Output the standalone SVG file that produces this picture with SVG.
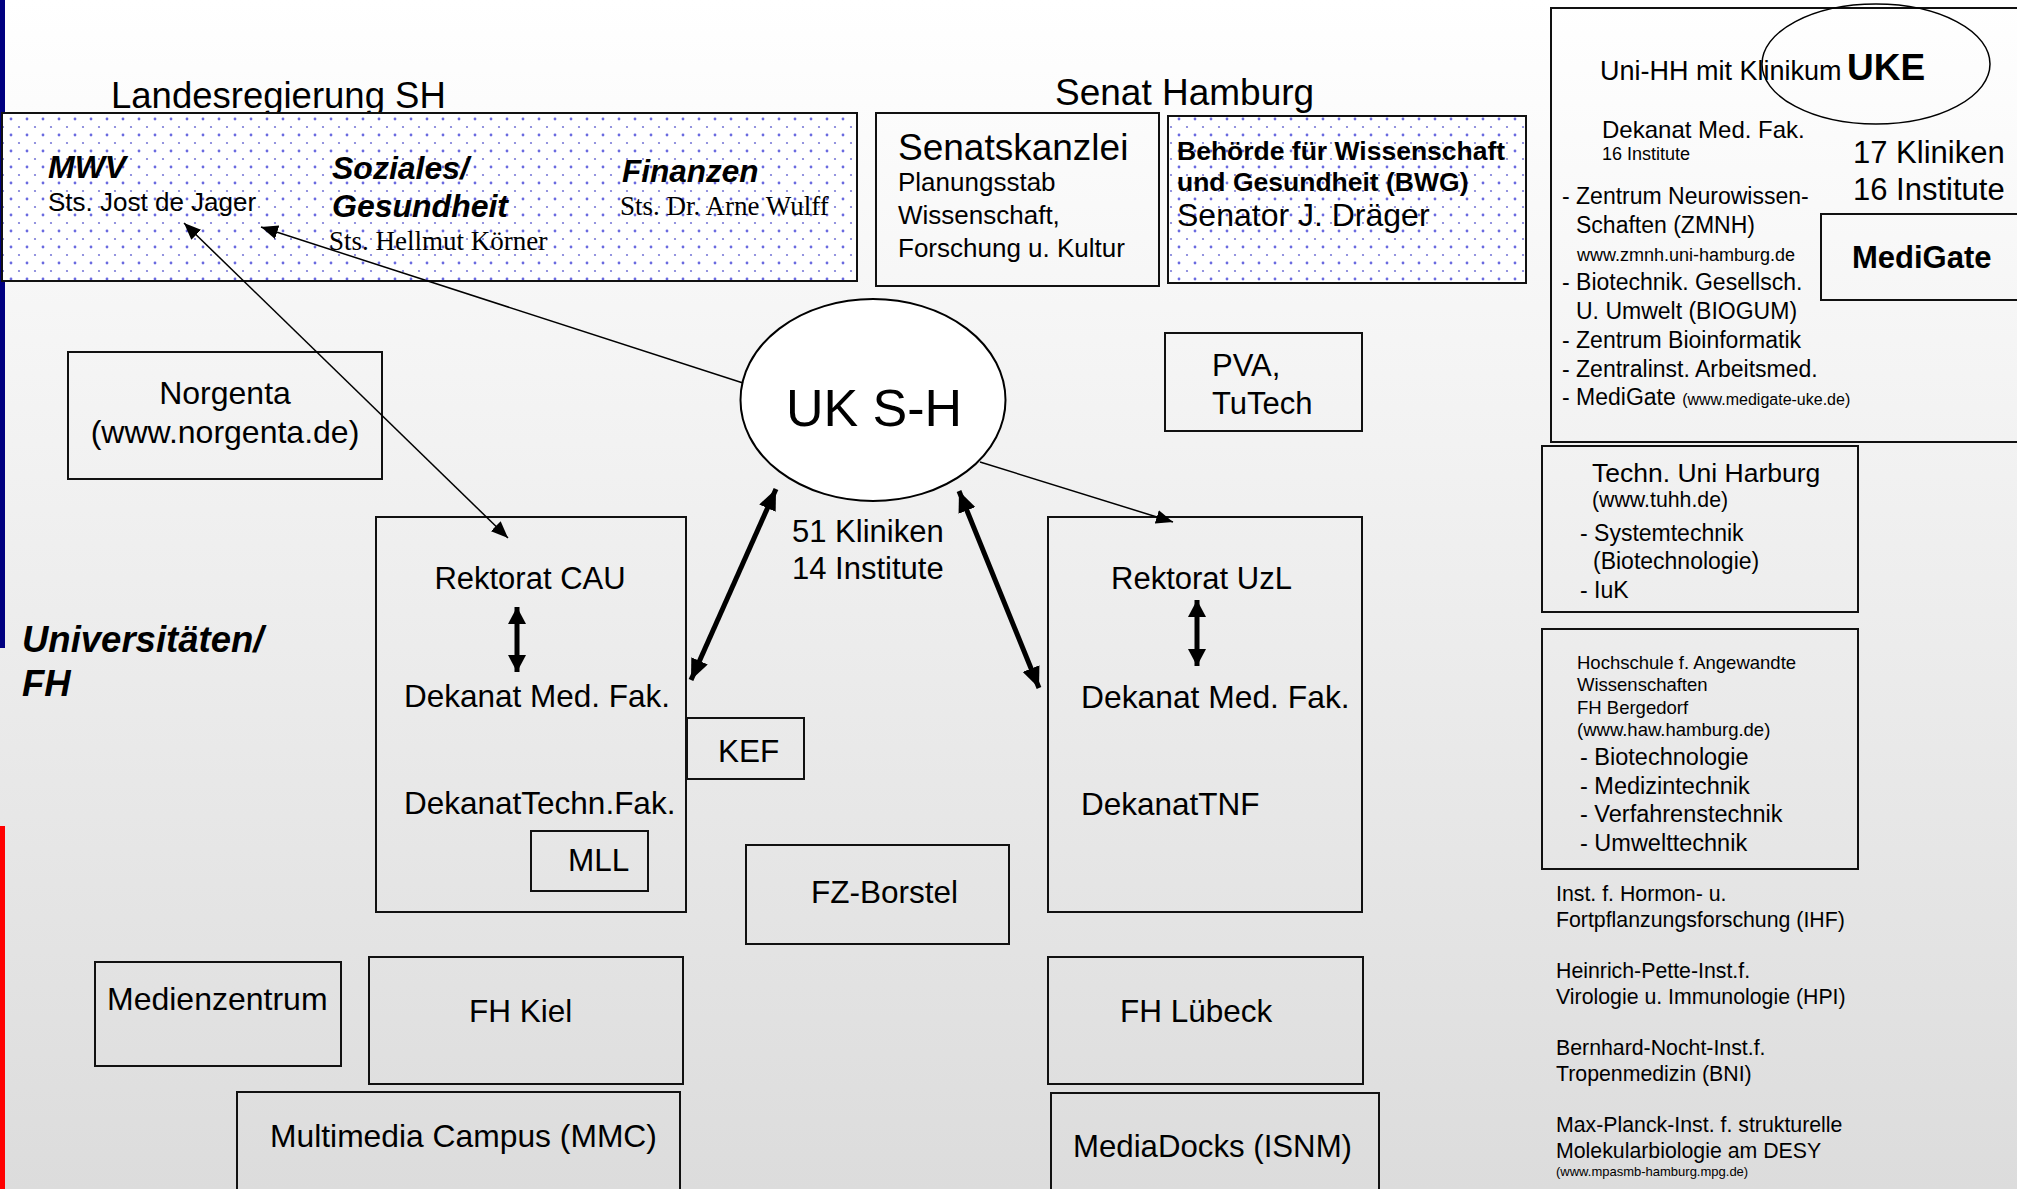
<svg xmlns="http://www.w3.org/2000/svg" width="2017" height="1189" viewBox="0 0 2017 1189">
<defs>
<linearGradient id="bg" x1="0" y1="0" x2="0" y2="1">
<stop offset="0" stop-color="#ffffff"/>
<stop offset="1" stop-color="#dcdcdc"/>
</linearGradient>
<pattern id="dots" x="3" y="111" width="16" height="16" patternUnits="userSpaceOnUse">
<rect width="16" height="16" fill="#ffffff"/>
<circle cx="8" cy="8" r="1.4" fill="#6a6ae0"/>
<circle cx="0" cy="0" r="1.1" fill="#7a7ad8"/>
<circle cx="16" cy="0" r="1.1" fill="#7a7ad8"/>
<circle cx="0" cy="16" r="1.1" fill="#7a7ad8"/>
<circle cx="16" cy="16" r="1.1" fill="#7a7ad8"/>
</pattern>
<marker id="thin" markerUnits="userSpaceOnUse" markerWidth="18" markerHeight="14" refX="17" refY="7" orient="auto-start-reverse">
<path d="M0,0 L17,7 L0,14 Z" fill="#000"/>
</marker>
<marker id="thick" markerUnits="userSpaceOnUse" markerWidth="22" markerHeight="18" refX="21" refY="9" orient="auto-start-reverse">
<path d="M0,0 L21,9 L0,18 Z" fill="#000"/>
</marker>
<marker id="small" markerUnits="userSpaceOnUse" markerWidth="18" markerHeight="18" refX="17" refY="9" orient="auto-start-reverse">
<path d="M0,0 L17,9 L0,18 Z" fill="#000"/>
</marker>
</defs>
<style>
text{font-family:"Liberation Sans",Arial,sans-serif;fill:#000}
.serif{font-family:"Liberation Serif","Times New Roman",serif}
.bi{font-weight:bold;font-style:italic}
.b{font-weight:bold}
.box{fill:none;stroke:#111;stroke-width:2}
.dot{fill:url(#dots);stroke:#111;stroke-width:2}
.f31{font-size:31.5px}
.f26{font-size:26px}
.f23{font-size:23px}
.f21{font-size:21.3px}
.f18{font-size:18.5px}
.thinline{stroke:#000;stroke-width:1.5;fill:none}
.thickline{stroke:#000;stroke-width:5;fill:none}
.mid{text-anchor:middle}
</style>
<rect x="0" y="0" width="2017" height="1189" fill="url(#bg)"/>
<rect x="0" y="0" width="5" height="648" fill="#000080"/>
<rect x="0" y="826" width="5" height="363" fill="#ff0000"/>

<g id="landesregierung">
<text x="111" y="108" font-size="36.5">Landesregierung SH</text>
<rect class="dot" x="2" y="113" width="855" height="168"/>
<text x="48" y="178" font-size="32" class="bi">MWV</text>
<text x="48" y="211" font-size="26">Sts. Jost de Jager</text>
<text x="332" y="179" font-size="32" class="bi">Soziales/</text>
<text x="332" y="217" font-size="32" class="bi">Gesundheit</text>
<text x="329" y="250" font-size="27" class="serif">Sts. Hellmut Körner</text>
<text x="622" y="182" font-size="31.5" class="bi">Finanzen</text>
<text x="620" y="215" font-size="27" class="serif">Sts. Dr. Arne Wulff</text>
</g>

<g id="senat">
<text x="1055" y="105" font-size="37">Senat Hamburg</text>
</g>

<g id="senatskanzlei">
<rect class="box" x="876" y="113" width="283" height="173"/>
<text x="898" y="160" font-size="37">Senatskanzlei</text>
<text x="898" y="191" class="f26">Planungsstab</text>
<text x="898" y="224" class="f26">Wissenschaft,</text>
<text x="898" y="257" class="f26">Forschung u. Kultur</text>
</g>

<g id="bwg">
<rect class="dot" x="1168" y="116" width="358" height="167"/>
<text x="1177" y="160" font-size="26.5" class="b">Behörde für Wissenschaft</text>
<text x="1177" y="191" font-size="26.5" class="b">und Gesundheit (BWG)</text>
<text x="1177" y="226" font-size="32">Senator J. Dräger</text>
</g>

<g id="uke">
<rect class="box" x="1551" y="8" width="480" height="434"/>
<text x="1600" y="80" font-size="27">Uni-HH mit Klinikum</text>
<text x="1847" y="80" font-size="37" class="b">UKE</text>
<ellipse cx="1876" cy="64" rx="114" ry="60" fill="none" stroke="#000" stroke-width="1.5"/>
<text x="1602" y="138" font-size="24">Dekanat Med. Fak.</text>
<text x="1602" y="160" font-size="18">16 Institute</text>
<text x="1853" y="163" font-size="31">17 Kliniken</text>
<text x="1853" y="200" font-size="31">16 Institute</text>
<text x="1562" y="204" class="f23">- Zentrum Neurowissen-</text>
<text x="1576" y="233" class="f23">Schaften (ZMNH)</text>
<text x="1577" y="261" font-size="18">www.zmnh.uni-hamburg.de</text>
<text x="1562" y="290" class="f23">- Biotechnik. Gesellsch.</text>
<text x="1576" y="319" class="f23">U. Umwelt (BIOGUM)</text>
<text x="1562" y="348" class="f23">- Zentrum Bioinformatik</text>
<text x="1562" y="377" class="f23">- Zentralinst. Arbeitsmed.</text>
<text x="1562" y="405" class="f23">- MediGate <tspan font-size="16">(www.medigate-uke.de)</tspan></text>
</g>

<g id="medigate">
<rect class="box" x="1821" y="214" width="210" height="86"/>
<text x="1852" y="268" font-size="31" class="b">MediGate</text>
</g>

<g id="tuhh">
<rect class="box" x="1542" y="446" width="316" height="166"/>
<text x="1592" y="482" font-size="26.5">Techn. Uni Harburg</text>
<text x="1592" y="507" class="f21">(www.tuhh.de)</text>
<text x="1580" y="541" class="f23">- Systemtechnik</text>
<text x="1593" y="569" class="f23">(Biotechnologie)</text>
<text x="1580" y="598" class="f23">- IuK</text>
</g>

<g id="haw">
<rect class="box" x="1542" y="629" width="316" height="240"/>
<text x="1577" y="669" class="f18">Hochschule f. Angewandte</text>
<text x="1577" y="691" class="f18">Wissenschaften</text>
<text x="1577" y="714" class="f18">FH Bergedorf</text>
<text x="1577" y="736" class="f18">(www.haw.hamburg.de)</text>
<text x="1580" y="765" font-size="23.5">- Biotechnologie</text>
<text x="1580" y="794" font-size="23.5">- Medizintechnik</text>
<text x="1580" y="822" font-size="23.5">- Verfahrenstechnik</text>
<text x="1580" y="851" font-size="23.5">- Umwelttechnik</text>
</g>

<g id="institute">
<text x="1556" y="901" class="f21">Inst. f. Hormon- u.</text>
<text x="1556" y="927" class="f21">Fortpflanzungsforschung (IHF)</text>
<text x="1556" y="978" class="f21">Heinrich-Pette-Inst.f.</text>
<text x="1556" y="1004" class="f21">Virologie u. Immunologie (HPI)</text>
<text x="1556" y="1055" class="f21">Bernhard-Nocht-Inst.f.</text>
<text x="1556" y="1081" class="f21">Tropenmedizin (BNI)</text>
<text x="1556" y="1132" class="f21">Max-Planck-Inst. f. strukturelle</text>
<text x="1556" y="1158" class="f21">Molekularbiologie am DESY</text>
<text x="1556" y="1176" font-size="13">(www.mpasmb-hamburg.mpg.de)</text>
</g>

<g id="norgenta">
<rect class="box" x="68" y="352" width="314" height="127"/>
<text x="225" y="404" font-size="32" class="mid">Norgenta</text>
<text x="225" y="443" font-size="32" class="mid">(www.norgenta.de)</text>
</g>

<g id="universitaeten">
<text x="22" y="652" font-size="36.5" class="bi">Universitäten/</text>
<text x="22" y="696" font-size="36.5" class="bi">FH</text>
</g>

<g id="cau">
<rect class="box" x="376" y="517" width="310" height="395"/>
<text x="530" y="589" font-size="31" class="mid">Rektorat CAU</text>
<text x="404" y="707" class="f31">Dekanat Med. Fak.</text>
<text x="404" y="814" class="f31">DekanatTechn.Fak.</text>
</g>

<g id="mll">
<rect class="box" x="531" y="831" width="117" height="60"/>
<text x="568" y="871" class="f31">MLL</text>
</g>

<g id="kef">
<rect class="box" x="687" y="718" width="117" height="61"/>
<text x="718" y="762" class="f31">KEF</text>
</g>

<g id="uksh">
<ellipse cx="873" cy="400" rx="132.5" ry="101" fill="#ffffff" stroke="#000" stroke-width="2"/>
<text x="874" y="426" font-size="52" class="mid">UK S-H</text>
<text x="792" y="542" font-size="31">51 Kliniken</text>
<text x="792" y="579" font-size="31">14 Institute</text>
</g>

<g id="uzl">
<rect class="box" x="1048" y="517" width="314" height="395"/>
<text x="1111" y="589" font-size="31">Rektorat UzL</text>
<text x="1081" y="708" font-size="31.8">Dekanat Med. Fak.</text>
<text x="1081" y="815" class="f31">DekanatTNF</text>
</g>

<g id="pva">
<rect class="box" x="1165" y="333" width="197" height="98"/>
<text x="1212" y="376" font-size="31">PVA,</text>
<text x="1212" y="414" font-size="31">TuTech</text>
</g>

<g id="fzborstel">
<rect class="box" x="746" y="845" width="263" height="99"/>
<text x="811" y="903" class="f31">FZ-Borstel</text>
</g>

<g id="medienzentrum">
<rect class="box" x="95" y="962" width="246" height="104"/>
<text x="107" y="1010" font-size="32">Medienzentrum</text>
</g>

<g id="fhkiel">
<rect class="box" x="369" y="957" width="314" height="127"/>
<text x="469" y="1022" class="f31">FH Kiel</text>
</g>

<g id="mmc">
<rect class="box" x="237" y="1092" width="443" height="110"/>
<text x="270" y="1147" font-size="31.8">Multimedia Campus (MMC)</text>
</g>

<g id="fhluebeck">
<rect class="box" x="1048" y="957" width="315" height="127"/>
<text x="1120" y="1022" class="f31">FH Lübeck</text>
</g>

<g id="mediadocks">
<rect class="box" x="1051" y="1093" width="328" height="110"/>
<text x="1073" y="1157" font-size="31.2">MediaDocks (ISNM)</text>
</g>

<g id="connectors">
<line class="thinline" x1="184" y1="223" x2="508" y2="538" marker-start="url(#thin)" marker-end="url(#thin)"/>
<line class="thinline" x1="743" y1="383" x2="261" y2="227" marker-end="url(#thin)"/>
<line class="thinline" x1="980" y1="462" x2="1173" y2="522" marker-end="url(#thin)"/>
<line class="thickline" x1="776" y1="489" x2="691" y2="680" marker-start="url(#thick)" marker-end="url(#thick)"/>
<line class="thickline" x1="959" y1="491" x2="1039" y2="688" marker-start="url(#thick)" marker-end="url(#thick)"/>
<line class="thickline" x1="517" y1="607" x2="517" y2="672" marker-start="url(#small)" marker-end="url(#small)"/>
<line class="thickline" x1="1197" y1="600" x2="1197" y2="666" marker-start="url(#small)" marker-end="url(#small)"/>
</g>
</svg>
